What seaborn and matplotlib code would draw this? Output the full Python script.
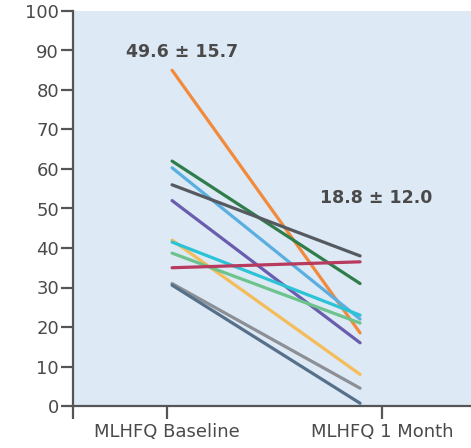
import matplotlib
matplotlib.use("Agg")
import matplotlib.pyplot as plt
import seaborn as sns
import pandas as pd

# ---- data ----
timepoints = ["MLHFQ Baseline", "MLHFQ 1 Month"]
patients = ["P1", "P2", "P3", "P4", "P5", "P6", "P7", "P8", "P9", "P10", "P11"]
baseline = [85, 62, 60.3, 56, 52, 42, 41.5, 38.7, 35, 31, 30.6]
month1 = [18.5, 31, 22, 38, 16, 8, 23, 21, 36.5, 4.5, 0.7]
colors = ["#f28a3c", "#2e7d4a", "#5aaee0", "#555a60", "#6a5cae", "#f5bc5a",
          "#2cc3d6", "#6cc48c", "#b83a5e", "#8c9096", "#56708a"]
summary_labels = ["49.6 \u00b1 15.7", "18.8 \u00b1 12.0"]
yticks = [0, 10, 20, 30, 40, 50, 60, 70, 80, 90, 100]

rows = []
for p, b, m in zip(patients, baseline, month1):
    rows.append({"patient": p, "t": 0, "score": b})
    rows.append({"patient": p, "t": 1, "score": m})
df = pd.DataFrame(rows)

sns.set_style("ticks")
plt.rcParams["font.family"] = ["DejaVu Sans"]

fig = plt.figure(figsize=(4.71, 4.48), dpi=100)
ax = fig.add_axes([73 / 471, 42 / 448, 398 / 471, 395 / 448])
ax.set_facecolor("#dde9f5")

sns.lineplot(data=df, x="t", y="score", hue="patient", palette=colors,
             linewidth=2.3, legend=False, ax=ax, estimator=None)

xl, xr = -0.527, 1.590
ax.set_xlim(xl, xr)
ax.set_ylim(0, 100)
ax.set_xticks([xl, -0.027, 1.117])
ax.set_xticklabels(["", timepoints[0], timepoints[1]])
ax.set_yticks(yticks)
ax.set_xlabel("")
ax.set_ylabel("")

for s in ["top", "right"]:
    ax.spines[s].set_visible(False)
for s in ["left", "bottom"]:
    ax.spines[s].set_visible(True)
    ax.spines[s].set_color("#555555")
    ax.spines[s].set_linewidth(1.6)
    ax.spines[s].set_zorder(5)

ax.tick_params(axis="both", direction="out", length=9, width=1.6,
               color="#555555", labelcolor="#4a4a4a", labelsize=13,
               bottom=True, left=True)
ax.tick_params(axis="x", pad=3)
ax.tick_params(axis="y", pad=1)

ax.text(0.053, 89.5, summary_labels[0], ha="center", va="center",
        fontsize=12.5, fontweight="bold", color="#4a4a4a")
ax.text(1.085, 52.7, summary_labels[1], ha="center", va="center",
        fontsize=12.5, fontweight="bold", color="#4a4a4a")

fig.savefig("out.png", dpi=100)
